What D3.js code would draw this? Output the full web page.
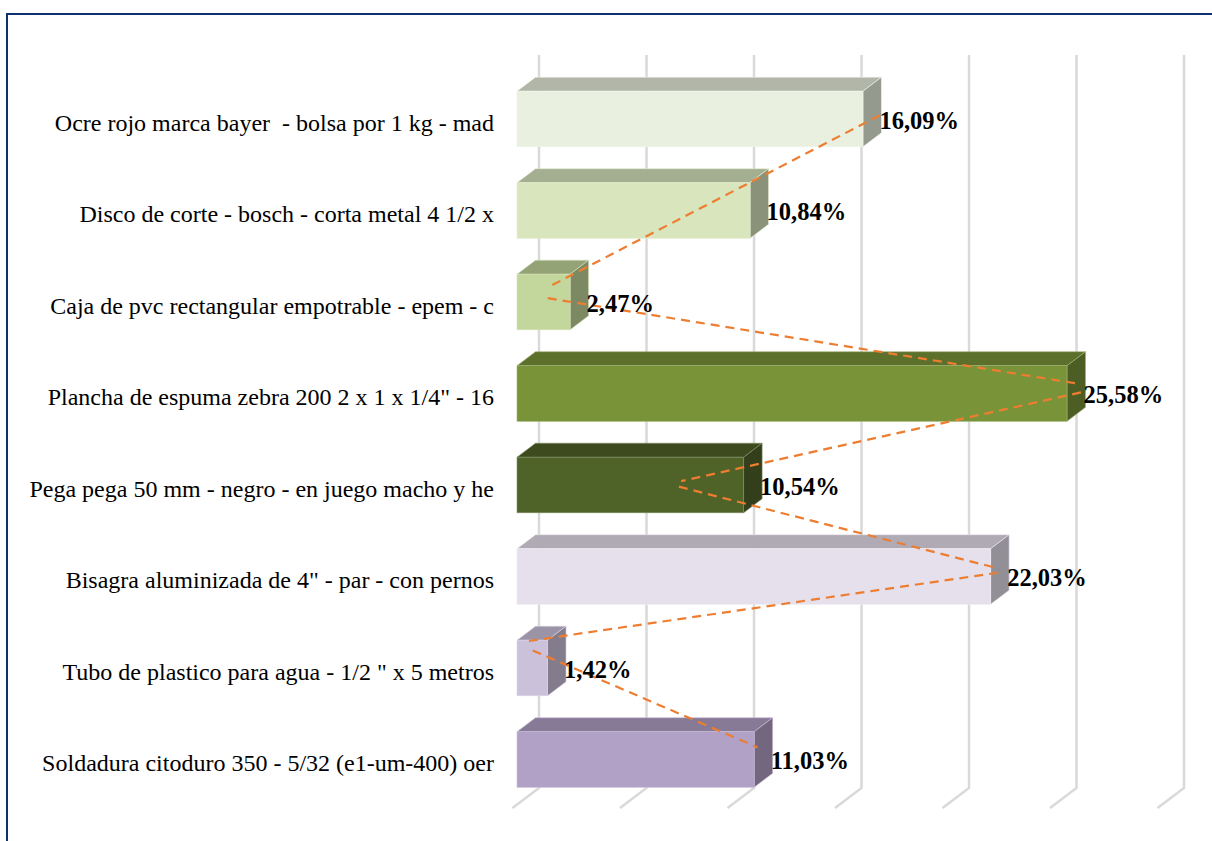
<!DOCTYPE html>
<html><head><meta charset="utf-8">
<script src="https://cdn.jsdelivr.net/npm/d3@7/dist/d3.min.js"></script>
<style>html,body{margin:0;padding:0;background:#fff}svg{display:block}</style>
</head><body><svg id="c" width="1212" height="841"></svg>
<script>
const categories = ['Ocre rojo marca bayer  - bolsa por 1 kg - mad','Disco de corte - bosch - corta metal 4 1/2 x','Caja de pvc rectangular empotrable - epem - c','Plancha de espuma zebra 200 2 x 1 x 1/4" - 16','Pega pega 50 mm - negro - en juego macho y he','Bisagra aluminizada de 4" - par - con pernos','Tubo de plastico para agua - 1/2 " x 5 metros','Soldadura citoduro 350 - 5/32 (e1-um-400) oer'];
const values = [16.09,10.84,2.47,25.58,10.54,22.03,1.42,11.03];
const valueLabels = ['16,09%','10,84%','2,47%','25,58%','10,54%','22,03%','1,42%','11,03%'];
const barColors = ['#e9f0df','#d8e5bd','#c3d69b','#799339','#4f6228','#e6e0ec','#ccc1da','#b2a1c7'];
const gridTicks = [0,5,10,15,20,25,30];
const lineRuns = [
 [[16.02,-0.02],[0.67,1.85]],
 [[0.57,1.98],[25.37,2.92]],
 [[25.37,3.01],[6.77,3.98]],
 [[6.67,4.04],[21.46,4.93]],
 [[21.51,4.98],[-0.41,5.73]],
 [[-0.13,5.83],[10.33,6.89]]
];
function shade(c,k){const r=d3.rgb(c);return d3.rgb(r.r*k,r.g*k,r.b*k).formatHex();}
function tint(c,k){const r=d3.rgb(c);return d3.rgb(r.r+(255-r.r)*k,r.g+(255-r.g)*k,r.b+(255-r.b)*k).formatHex();}
const svg = d3.select('#c');
const x = d3.scaleLinear().domain([0,25.58]).range([517,1067]);
const band = d3.scaleBand().domain(d3.range(categories.length)).range([73.25,805.25]);
const barH = 55.6, dx = 18.5, dy = 14;
const barTop = i => band(i) + band.step()/2 - barH/2;
svg.append('rect').attr('x',7).attr('y',14).attr('width',1300).attr('height',900).attr('fill','#fff').attr('stroke','#12306f').attr('stroke-width',2);
const gx = v => x(v) + 22;
svg.append('g').selectAll('path').data(gridTicks).join('path')
 .attr('d',d => `M${gx(d)},55V788L${gx(d)-26.5},808`).attr('fill','none').attr('stroke','#d9d9d9').attr('stroke-width',2.5);
const bars = svg.append('g').selectAll('g').data(values).join('g');
bars.append('path').attr('d',(d,i)=>{const t=barTop(i),r=x(d),l=x(0);return `M${l},${t}L${l+dx},${t-dy}H${r+dx}L${r},${t}Z`;})
 .attr('fill',(d,i)=>shade(barColors[i],0.76)).attr('stroke',(d,i)=>tint(barColors[i],0.3)).attr('stroke-width',0.6);
bars.append('path').attr('d',(d,i)=>{const t=barTop(i),r=x(d);return `M${r},${t}L${r+dx},${t-dy}V${t+barH-dy}L${r},${t+barH}Z`;})
 .attr('fill',(d,i)=>shade(barColors[i],0.64)).attr('stroke',(d,i)=>tint(barColors[i],0.3)).attr('stroke-width',0.6);
bars.append('rect').attr('x',x(0)).attr('y',(d,i)=>barTop(i)).attr('width',d=>x(d)-x(0)).attr('height',barH)
 .attr('fill',(d,i)=>barColors[i]).attr('stroke',(d,i)=>tint(barColors[i],0.3)).attr('stroke-width',0.6);
const lx = v => x(v) + dx, ly = p => band(0) + band.step()/2 - 2 + p*band.step();
const line = d3.line().x(d=>lx(d[0])).y(d=>ly(d[1]));
svg.append('g').selectAll('path').data(lineRuns).join('path').attr('d',line).attr('fill','none')
 .attr('stroke','#ed7d31').attr('stroke-width',2.2).attr('stroke-dasharray','9,6');
svg.append('g').selectAll('text').data(categories).join('text')
 .attr('x',494).attr('y',(d,i)=>barTop(i)+barH/2+11.5).attr('text-anchor','end')
 .style('white-space','pre').attr('xml:space','preserve')
 .attr('font-family','"Liberation Serif"').attr('font-size',24).attr('fill','#000').text(d=>d);
svg.append('g').selectAll('text').data(values).join('text')
 .attr('x',d=>x(d)+16.5).attr('y',(d,i)=>barTop(i)+barH/2+9.5)
 .attr('font-family','"Liberation Serif"').attr('font-weight','bold').attr('font-size',24.5).attr('fill','#000').text((d,i)=>valueLabels[i]);
</script></body></html>
